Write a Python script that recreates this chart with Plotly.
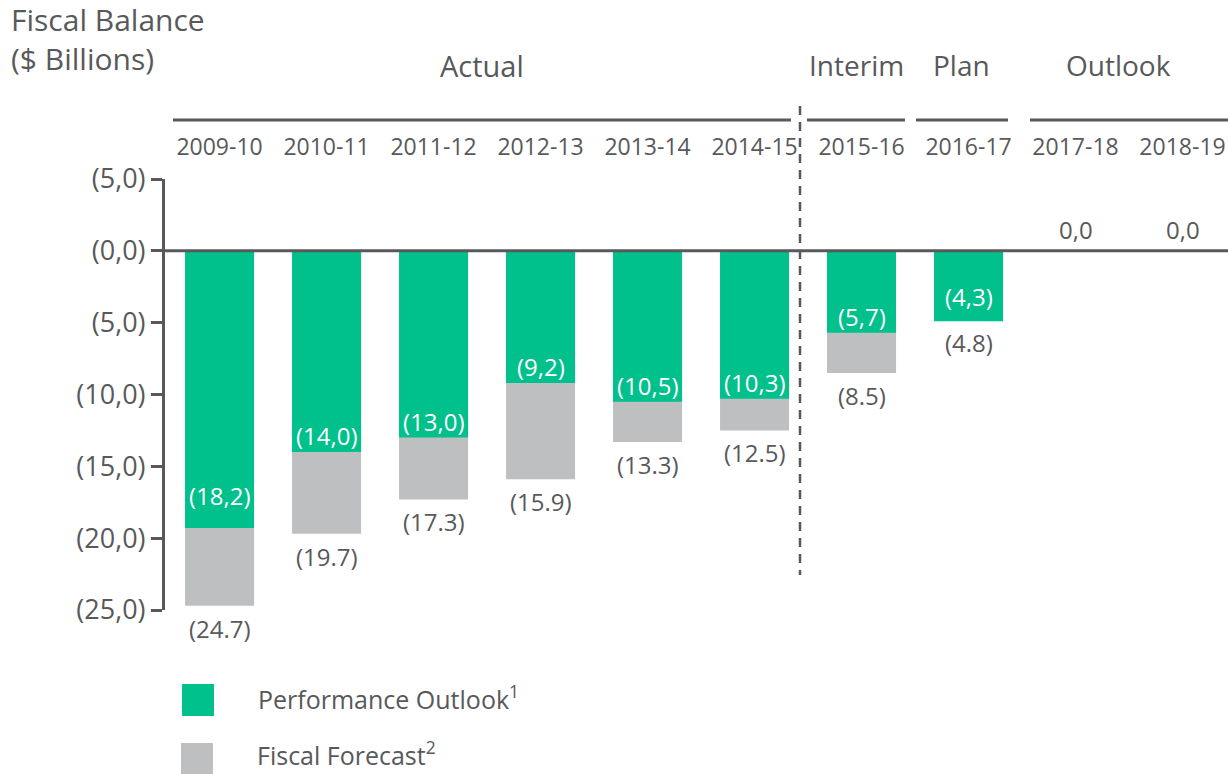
import plotly.graph_objects as go

# ---- data ----
years = ["2009-10", "2010-11", "2011-12", "2012-13", "2013-14", "2014-15",
         "2015-16", "2016-17", "2017-18", "2018-19"]
perf_labels = [18.2, 14.0, 13.0, 9.2, 10.5, 10.3, 5.7, 4.3, 0.0, 0.0]      # printed values
perf_depth = [19.3, 14.0, 13.0, 9.2, 10.5, 10.3, 5.7, 4.9, 0.0, 0.0]       # drawn bar depth
forecast = [24.7, 19.7, 17.3, 15.9, 13.3, 12.5, 8.5, 4.8, None, None]
y_tickvals = [5, 0, -5, -10, -15, -20, -25]
y_ticktext = ["(5,0)", "(0,0)", "(5,0)", "(10,0)", "(15,0)", "(20,0)", "(25,0)"]
groups = [("Actual", 2.45, 0, 5), ("Interim", 5.95, 6, 6), ("Plan", 6.93, 7, 7), ("Outlook", 8.4, 8, 9)]

GREEN = "#00C08B"
GREY = "#BEBFC1"
TEXT = "#58595B"
FONT = "Open Sans"

W, H = 1228, 774
ML, MR, MT, MB = 165, 0, 179, 164
PW, PH = W - ML - MR, H - MT - MB


def px(x):
    return (x - ML) / PW


def py(y):
    return (H - MB - y) / PH


fig = go.Figure()
fig.add_trace(go.Bar(x=years, y=[-v if v is not None else None for v in forecast],
                     marker=dict(color=GREY, line=dict(width=0)), width=0.645,
                     showlegend=False, hoverinfo="skip"))
fig.add_trace(go.Bar(x=years, y=[-v for v in perf_depth],
                     marker=dict(color=GREEN, line=dict(width=0)), width=0.645,
                     showlegend=False, hoverinfo="skip"))

annotations = []
for yr, pv, fv in zip(years, perf_labels, forecast):
    if pv == 0:
        annotations.append(dict(x=yr, y=0, xref="x", yref="y", text="0,0",
                                showarrow=False, yanchor="bottom", yshift=3,
                                font=dict(size=24, color=TEXT, family=FONT)))
    else:
        annotations.append(dict(x=yr, y=-pv, xref="x", yref="y",
                                text="(" + f"{pv:.1f}".replace(".", ",") + ")",
                                showarrow=False, yanchor="bottom", yshift=-2,
                                font=dict(size=24, color="white", family=FONT)))
    if fv is not None:
        annotations.append(dict(x=yr, y=-fv, xref="x", yref="y", text=f"({fv:.1f})",
                                showarrow=False, yanchor="top", yshift=-4,
                                font=dict(size=24, color=TEXT, family=FONT)))

shapes = []
# group headers
line_spans = {"Actual": (173, 791), "Interim": (807, 905), "Plan": (916, 1008), "Outlook": (1030, 1228)}
for name, xc, a, b in groups:
    annotations.append(dict(x=xc, y=py(65), xref="x", yref="paper", text=name,
                            showarrow=False, yanchor="middle",
                            font=dict(size=29 if name == "Actual" else 28, color=TEXT, family=FONT)))
    x0, x1 = line_spans[name]
    shapes.append(dict(type="line", xref="paper", yref="paper", x0=px(x0), x1=px(x1),
                       y0=py(120), y1=py(120), line=dict(color=TEXT, width=3)))

# title
annotations.append(dict(x=px(9), y=py(39), xref="paper", yref="paper",
                        text="Fiscal Balance<br>($ Billions)", align="left",
                        showarrow=False, xanchor="left", yanchor="middle",
                        font=dict(size=30, color=TEXT, family=FONT)))

# zero line
shapes.append(dict(type="line", xref="paper", yref="y", x0=0, x1=1, y0=0, y1=0,
                   line=dict(color=TEXT, width=3), layer="above"))
# dashed separator
shapes.append(dict(type="line", xref="paper", yref="paper", x0=px(800), x1=px(800),
                   y0=py(106), y1=py(575), line=dict(color=TEXT, width=2.5, dash="9px,7px")))

# legend
shapes.append(dict(type="rect", xref="paper", yref="paper", x0=px(182), x1=px(214),
                   y0=py(716), y1=py(684), fillcolor=GREEN, line=dict(width=0)))
shapes.append(dict(type="rect", xref="paper", yref="paper", x0=px(181), x1=px(213),
                   y0=py(774), y1=py(743), fillcolor=GREY, line=dict(width=0)))
annotations.append(dict(x=px(256), y=py(697), xref="paper", yref="paper",
                        text="Performance Outlook<sup>1</sup>", showarrow=False,
                        xanchor="left", yanchor="middle",
                        font=dict(size=25, color=TEXT, family=FONT)))
annotations.append(dict(x=px(255), y=py(753), xref="paper", yref="paper",
                        text="Fiscal Forecast<sup>2</sup>", showarrow=False,
                        xanchor="left", yanchor="middle",
                        font=dict(size=25, color=TEXT, family=FONT)))

fig.update_layout(
    width=W, height=H, margin=dict(l=ML, r=MR, t=MT, b=MB, pad=0),
    paper_bgcolor="white", plot_bgcolor="white", barmode="overlay",
    font=dict(family=FONT, color=TEXT),
    annotations=annotations, shapes=shapes,
    xaxis=dict(type="category", categoryorder="array", categoryarray=years,
               range=[-0.51, 9.425], side="top", showline=False, showgrid=False,
               zeroline=False, ticks="", ticklabelstandoff=18,
               tickfont=dict(size=23, color=TEXT, family=FONT)),
    yaxis=dict(range=[-25, 5], tickvals=y_tickvals, ticktext=y_ticktext,
               ticks="outside", ticklen=11, tickwidth=3, tickcolor=TEXT,
               showline=True, linewidth=3, linecolor=TEXT, showgrid=False,
               zeroline=False, tickfont=dict(size=27, color=TEXT, family=FONT)),
)

fig.write_html("out.html")
